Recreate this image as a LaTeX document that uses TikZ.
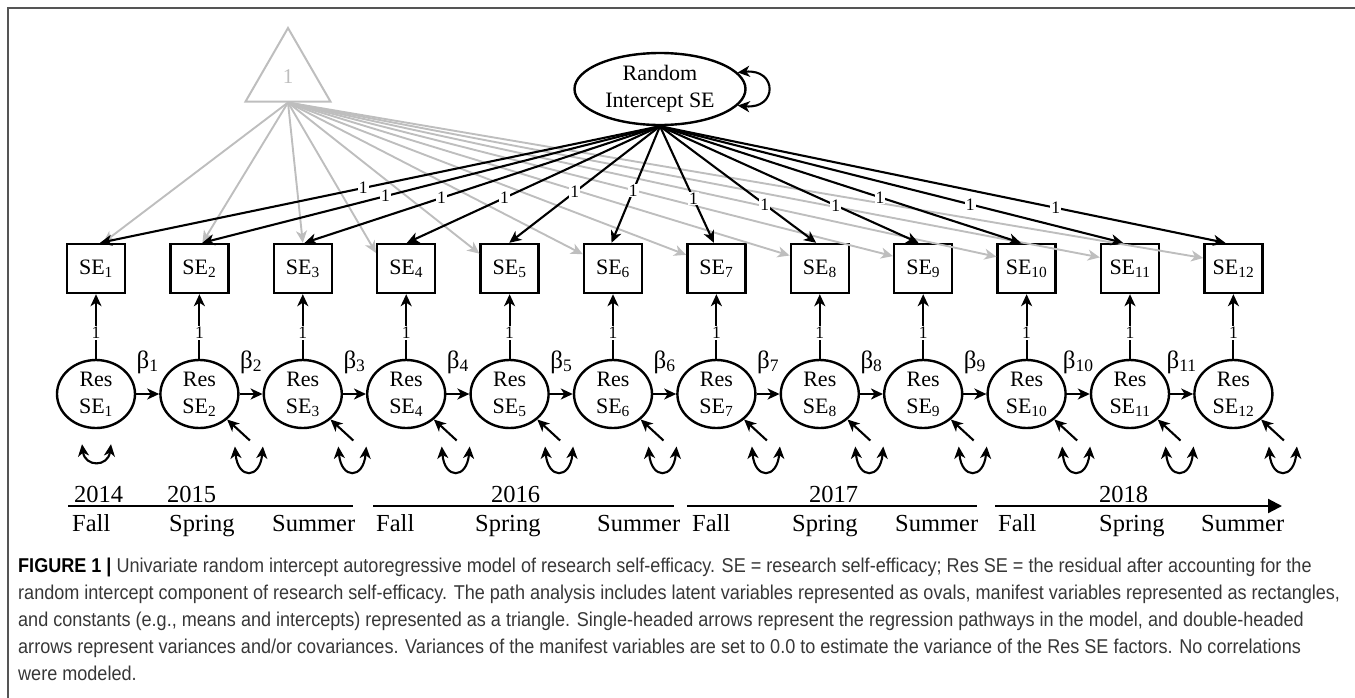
\documentclass[tikz,border=0pt]{standalone}
\usepackage{fontspec}
\setmainfont{Liberation Serif}
\newfontfamily\mycapfamily{Liberation Sans}
\usepackage{graphicx}
\usetikzlibrary{arrows.meta,shapes.geometric,calc}
\definecolor{grayc}{RGB}{190,190,190}
\definecolor{capc}{RGB}{55,55,55}
\definecolor{framec}{RGB}{85,85,85}
\newcommand\mydg{\fontsize{22}{27}\selectfont}
\newcommand\myone{\fontsize{17.5}{19}\selectfont}
\newcommand\mytl{\fontsize{24.5}{27}\selectfont}
\newcommand\mybeta{\fontsize{25}{27}\selectfont}
\newcommand\mycap{\mycapfamily\fontsize{20}{23}\selectfont}
\newlength\capw
\begin{document}
\settowidth{\capw}{\mycap random intercept component of research self-efficacy. The path analysis includes latent variables represented as ovals, manifest variables represented as rectangles,}%
\pgfmathsetmacro\capsc{1322/\capw}%
\begin{tikzpicture}[x=1pt,y=-1pt,
  obs/.style={draw, line width=2.4pt, minimum width=58pt, minimum height=49pt, inner sep=0pt, font=\mydg},
  res/.style={draw, ellipse, line width=2.4pt, minimum width=78pt, minimum height=68pt, inner sep=0pt, align=center, font=\mydg},
  lat/.style={draw, ellipse, line width=2.4pt, minimum width=171pt, minimum height=72pt, inner sep=0pt, align=center, font=\mydg},
  tri/.style={regular polygon, regular polygon sides=3, draw=grayc, line width=2pt, minimum size=98pt, inner sep=0pt, text=grayc, font=\fontsize{21}{22}\selectfont},
  blk/.style={line width=2.1pt, -{Stealth[length=12pt,width=11pt,inset=3.5pt]}},
  gry/.style={draw=grayc, line width=1.9pt, -{Stealth[length=12pt,width=11pt,inset=3.5pt]}},
  dbl/.style={line width=2.1pt, {Stealth[length=12pt,width=11pt,inset=3.5pt]}-{Stealth[length=12pt,width=11pt,inset=3.5pt]}},
  one/.style={fill=white, inner sep=1pt, font=\myone},
  tlab/.style={anchor=base west, inner sep=0pt, font=\mytl},
  tline/.style={line width=2.2pt},
  capl/.style={anchor=base west, inner sep=0pt, font=\mycap, text=capc}
]
\useasboundingbox (0,0) rectangle (1355,697);
% frame
\draw[framec, line width=2pt] (8,698) -- (8,8) -- (1356,8);

% triangle and random intercept
\node[tri] (T) at (288,77) {1};
\node[lat] (RI) at (660,89) {Random\\Intercept SE};
\draw[dbl] (RI.12) .. controls +(40,-4) and +(40,4) .. (RI.-12);

% boxes and residual circles
\foreach \i in {1,...,12} {
  \pgfmathsetmacro\xx{96+103.4*(\i-1)}
  \node[obs] (SE\i) at (\xx,268.5) {SE\textsubscript{\i}};
  \node[res] (R\i) at (\xx,394) {Res\\SE\textsubscript{\i}};
}

% gray arrows from constant
\foreach \i/\o in {1/7,2/3,3/0}
  \draw[gry] (T.south) -- ([xshift=\o pt]SE\i.north);
\foreach \i in {4,...,12} {
  \pgfmathsetmacro\ys{15.5-(\i-4)*0.625}
  \draw[gry] (T.south) -- ([yshift=\ys pt]SE\i.west);
}

% black loadings from random intercept
\foreach \i/\p in {1/0.53,2/0.60,3/0.615,4/0.614,5/0.565,6/0.55,7/0.62,8/0.67,9/0.68,10/0.61,11/0.67,12/0.70} {
  \pgfmathsetmacro\o{4-12/11*(\i-1)}
  \draw[blk] (RI.south) -- node[one, pos=\p] (l\i) {1} ([xshift=\o pt]SE\i.north);
}

% residual to observed
\foreach \i in {1,...,12}
  \draw[blk] (R\i) -- node[one, pos=0.4] (v\i) {1} (SE\i);

% autoregressive paths
\foreach \i [evaluate=\i as \j using int(\i+1)] in {1,...,11}
  \draw[blk] (R\i) -- node[midway, yshift=32pt, inner sep=0pt, font=\mybeta] (b\i) {β\textsubscript{\i}} (R\j);

% variances
\draw[dbl] ($(R1.south)+(-14,15)$) .. controls +(3,23) and +(-3,23) .. ($(R1.south)+(15,15)$);
\foreach \i in {2,...,12} {
  \coordinate (e\i) at ($(R\i.center)+(50.5,46.5)$);
  \draw[blk] (e\i) -- (R\i);
  \draw[dbl] ($(e\i)+(-15,6)$) .. controls +(3,33) and +(-3,33) .. ($(e\i)+(13,6)$);
}

% timeline
\coordinate (s1a) at (68,506);  \coordinate (s1b) at (353,506);
\coordinate (s2a) at (373,506); \coordinate (s2b) at (674,506);
\coordinate (s3a) at (687,506); \coordinate (s3b) at (977,506);
\coordinate (s4a) at (995,506); \coordinate (s4b) at (1282,506);
\draw[tline] (s1a) -- (s1b);
\draw[tline] (s2a) -- (s2b);
\draw[tline] (s3a) -- (s3b);
\draw[tline, -{Triangle[length=14pt,width=14pt]}] (s4a) -- (s4b);

\node[tlab] (y14) at (74,502) {2014};
\node[tlab] (y15) at (167,502) {2015};
\node[tlab] (y16) at (491,502) {2016};
\node[tlab] (y17) at (809,502) {2017};
\node[tlab] (y18) at (1099,502) {2018};

\node[tlab] (f1) at (72,531) {Fall};
\node[tlab] (p1) at (169,531) {Spring};
\node[tlab] (u1) at (272,531) {Summer};
\node[tlab] (f2) at (376,531) {Fall};
\node[tlab] (p2) at (475,531) {Spring};
\node[tlab] (u2) at (597,531) {Summer};
\node[tlab] (f3) at (692,531) {Fall};
\node[tlab] (p3) at (792,531) {Spring};
\node[tlab] (u3) at (895,531) {Summer};
\node[tlab] (f4) at (998,531) {Fall};
\node[tlab] (p4) at (1099,531) {Spring};
\node[tlab] (u4) at (1201,531) {Summer};

% caption
\node[capl] (c1) at (18,572) {\scalebox{\capsc}[1]{\textbf{\color{black}FIGURE 1 |} Univariate random intercept autoregressive model of research self-efficacy. SE = research self-efficacy; Res SE = the residual after accounting for the}};
\node[capl] (c2) at (18,599) {\scalebox{\capsc}[1]{random intercept component of research self-efficacy. The path analysis includes latent variables represented as ovals, manifest variables represented as rectangles,}};
\node[capl] (c3) at (18,626) {\scalebox{\capsc}[1]{and constants (e.g., means and intercepts) represented as a triangle. Single-headed arrows represent the regression pathways in the model, and double-headed}};
\node[capl] (c4) at (18,653) {\scalebox{\capsc}[1]{arrows represent variances and/or covariances. Variances of the manifest variables are set to 0.0 to estimate the variance of the Res SE factors. No correlations}};
\node[capl] (c5) at (18,680) {\scalebox{\capsc}[1]{were modeled.}};
\end{tikzpicture}
\end{document}
